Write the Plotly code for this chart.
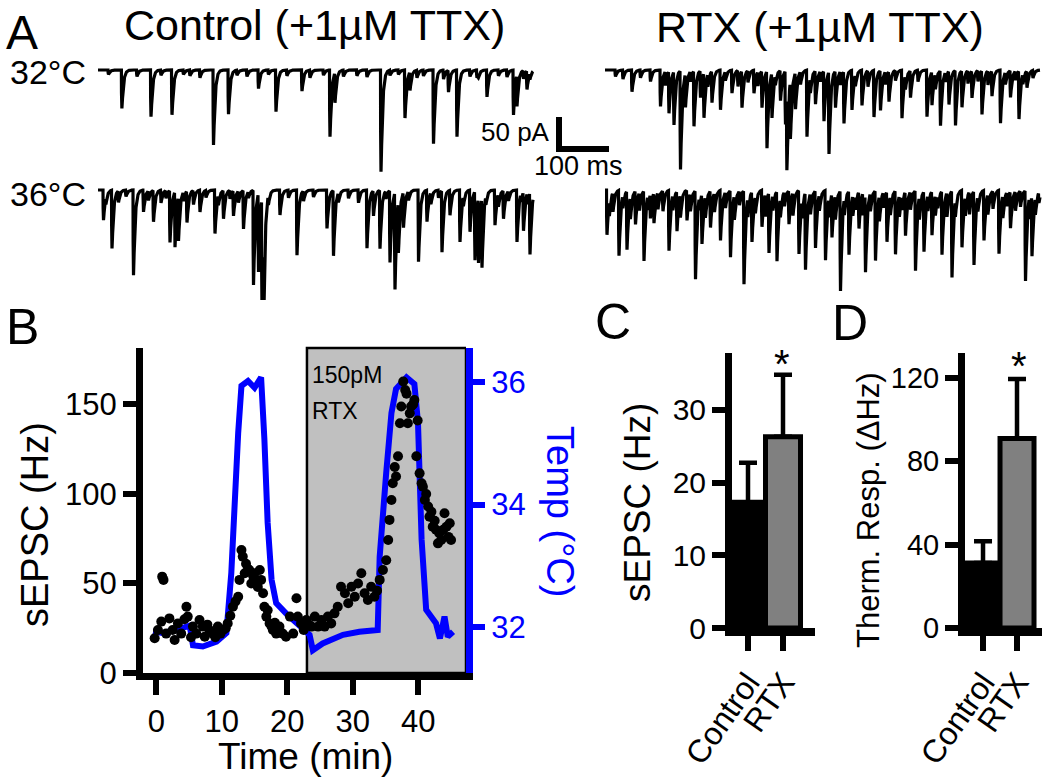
import numpy as np
import plotly.graph_objects as go

W, H = 1050, 781
FONT = "Arial, 'Liberation Sans', sans-serif"

# ---------------- Panel A : event lists (time ms, amplitude pA) ----------------
ctl32_t = [46.7, 105, 147, 230, 260, 320, 355, 407, 463, 473, 565, 613, 623, 670, 700, 717, 777, 830, 837, 857,
           20, 77, 125, 170, 183, 203, 277, 297, 340, 377, 423, 450, 490, 517, 537, 583, 600, 637, 650, 690, 743, 757, 760, 800, 817, 850, 863]
ctl32_a = [60, 73, 70, 117, 69, 29, 65, 33, 104, 47, 159, 75, 29, 115, 34, 104, 42, 70, 49, 29,
           7, 10, 8, 7, 9, 12, 8, 10, 7, 9, 12, 8, 10, 9, 11, 8, 7, 12, 9, 14, 10, 12, 7, 9, 11, 13, 10]

ctl36_t = [10, 27, 70, 90, 110, 143, 153, 160, 177, 203, 233, 250, 270, 290, 310, 320, 327, 330, 363, 397, 457, 470,
           537, 550, 563, 583, 593, 600, 610, 640, 657, 687, 703, 723, 743, 753, 760, 767, 793, 810, 837, 850, 863,
           15, 40, 55, 100, 125, 135, 170, 190, 215, 240, 263, 280, 300, 340, 380, 410, 430, 480, 500, 520, 575, 620,
           665, 680, 730, 775, 800, 820, 845, 858]
ctl36_a = [47, 91, 133, 34, 49, 81, 86, 70, 49, 34, 68, 44, 39, 60, 148, 122, 169, 154, 39, 102, 60, 102,
           91, 39, 91, 112, 151, 81, 55, 112, 49, 96, 39, 81, 65, 107, 102, 109, 55, 44, 81, 60, 96,
           12, 18, 10, 15, 20, 12, 14, 22, 11, 16, 13, 18, 10, 14, 12, 16, 11, 15, 13, 20, 12, 14,
           18, 12, 16, 13, 20, 15, 12, 17]

rtx32_t = [53, 110, 127, 137, 150, 160, 177, 190, 197, 213, 230, 253, 273, 297, 313, 323, 333, 350, 360, 363, 370,
           380, 403, 420, 437, 447, 460, 477, 493, 513, 537, 550, 567, 593, 610, 643, 653, 670, 687, 700, 713, 733,
           753, 773, 790, 810, 827, 843,
           20, 35, 70, 90, 120, 170, 205, 240, 265, 285, 305, 340, 390, 410, 430, 470, 500, 525, 560, 580, 600,
           625, 660, 680, 725, 745, 765, 800, 820, 835, 855]
rtx32_a = [34, 57, 65, 83, 154, 52, 86, 42, 70, 49, 62, 36, 57, 36, 57, 120, 70, 47, 83, 120, 91,
           57, 104, 52, 78, 128, 57, 81, 62, 55, 73, 62, 47, 75, 42, 73, 52, 86, 52, 86, 57, 42,
           68, 39, 83, 42, 75, 26,
           10, 14, 12, 18, 22, 16, 20, 14, 25, 18, 22, 15, 20, 24, 16, 21, 18, 25, 20, 16, 22,
           18, 24, 15, 20, 17, 22, 19, 14, 16, 12]

rtx36_t = [3, 27, 43, 60, 77, 97, 127, 143, 163, 180, 193, 210, 230, 250, 277, 293, 313, 327, 343, 367, 387, 400,
           420, 440, 453, 470, 487, 507, 520, 540, 563, 580, 600, 620, 637, 653, 673, 693, 713, 737, 757, 787,
           810, 840, 853, 867,
           8, 15, 35, 50, 68, 85, 90, 105, 115, 135, 150, 170, 188, 200, 218, 240, 258, 268, 285, 300, 320, 335,
           350, 358, 375, 393, 410, 428, 447, 460, 478, 495, 500, 515, 530, 548, 556, 570, 588, 593, 610, 628,
           645, 660, 665, 683, 700, 720, 728, 745, 765, 775, 795, 803, 820, 830, 848, 860]
rtx36_a = [70, 102, 91, 52, 109, 47, 94, 62, 47, 138, 78, 57, 78, 104, 146, 78, 57, 94, 109, 52, 99, 120,
           89, 109, 68, 156, 99, 57, 120, 109, 78, 99, 68, 125, 94, 68, 99, 135, 89, 115, 78, 99,
           57, 141, 94, 16,
           25, 30, 20, 35, 28, 22, 38, 26, 32, 24, 36, 28, 20, 34, 30, 25, 38, 22, 30, 27, 35, 24,
           30, 22, 36, 28, 33, 25, 30, 38, 26, 32, 22, 35, 28, 40, 24, 30, 34, 22, 28, 36,
           25, 32, 20, 38, 26, 30, 35, 24, 32, 28, 36, 22, 30, 25, 34, 27]

scale_ms = 100
scale_pA = 50

# ---------------- Panel B ----------------
temp_t = [-0.5, 1.0, 3.05, 5.1, 5.6, 7.1, 9.2, 10.7, 11.45, 12.0, 12.5, 13.0, 14.0, 15.0, 16.0, 16.5, 17.0, 17.6,
          18.3, 19.8, 21.9, 23.4, 23.9, 25.4, 28.5, 31.0, 33.8, 34.1, 35.1, 35.9, 36.6, 38.2, 39.4, 39.95, 40.5,
          41.2, 42.7, 43.3, 44.0, 44.5, 45.3]
temp_c = [31.92, 31.9, 31.95, 32.02, 31.7, 31.68, 31.76, 31.9, 32.88, 34.25, 35.17, 35.94, 36.02, 35.91, 36.08,
          35.07, 33.70, 32.77, 32.39, 32.22, 32.0, 31.87, 31.62, 31.73, 31.87, 31.92, 31.95, 33.15, 34.52, 35.5,
          35.89, 36.08, 35.97, 35.34, 33.43, 32.28, 32.06, 31.81, 32.17, 31.84, 31.92]

sepsc_t = [-0.25, 0.25, 0.76, 0.9, 1.1, 1.5, 2.0, 2.5, 2.8, 3.3, 3.8, 4.3, 4.6, 4.8, 5.3, 5.6, 6.1, 6.6, 7.1, 7.4,
           7.8, 8.1, 8.65, 9.0, 9.4, 9.8, 10.2, 10.6, 10.9, 11.3, 11.7, 12.1, 12.5, 12.7, 13.0, 13.2, 13.5, 13.7,
           14.0, 14.2, 14.5, 14.8, 15.0, 15.3, 15.5, 15.8, 16.0, 16.3, 16.5, 16.8, 17.0, 17.3, 17.6, 17.8, 18.1,
           18.3, 18.8, 19.3, 19.8, 20.4, 20.9, 21.4, 21.6, 22.1, 22.5, 22.9, 23.3, 23.7, 24.2, 24.7, 25.2, 25.7,
           26.2, 26.7, 27.2, 27.7, 28.2, 28.8, 29.3, 29.8, 30.3, 30.8, 31.3, 31.8, 32.3, 32.8, 33.3, 33.7, 34.1,
           34.6, 35.1, 35.4, 35.6, 35.9, 36.1, 36.4, 36.6, 36.9, 37.2, 37.4, 37.7, 38.0, 38.2, 38.4, 38.7, 38.9,
           39.2, 39.4, 39.7, 39.9, 40.2, 40.5, 40.7, 41.0, 41.2, 41.5, 41.7, 42.0, 42.2, 42.5, 42.7, 43.0, 43.2,
           43.5, 43.8, 44.0, 44.3, 44.6, 44.8, 45.0]
sepsc_h = [19.4, 24, 28.7, 53.8, 52, 22, 30.5, 24, 18.4, 27.7, 22, 30, 37, 31.5, 20, 25.9, 22, 29.6, 25.9, 20.3,
           27, 24, 22, 20, 25.9, 22, 24, 25, 27.7, 32, 37, 40, 42.6, 52, 68.7, 65, 55.7, 61, 58, 57.5, 50, 54,
           55.7, 50, 48, 57.5, 52, 44.5, 37, 31.5, 35, 27.7, 26, 24, 28, 22, 25.9, 22, 20.3, 31.5, 22, 41.7,
           31.5, 27.7, 24, 29.6, 27, 25.9, 31.5, 25.9, 29.6, 25.9, 31.5, 27.7, 33.3, 37, 48.2, 44.5, 39, 48.2,
           42.6, 50, 55.7, 44.5, 40.8, 48.2, 42.6, 46, 52, 57.5, 63, 74.3, 85.5, 96.6, 106, 115, 109.7, 121,
           139.5, 148.8, 162.8, 158, 156, 139.5, 145, 148.8, 150, 152.5, 121, 141, 111.5, 106, 104, 96.6, 100,
           93, 87.3, 90, 81.7, 85, 80, 72.4, 78, 74.3, 80, 89.2, 81.7, 76, 83.6, 74.3]

# ---------------- Panels C, D ----------------
groups = ["Control", "RTX"]
c_mean = [17.3, 26.3]
c_err = [5.4, 8.5]
d_mean = [31.2, 91.0]
d_err = [10.5, 28.5]


def px(x):
    return x / W


def py(y):
    return 1 - y / H


def build_trace(ev_t, ev_a, duration=870.0, dt=0.25, tau_r=0.4, tau_d=3.0):
    t = np.arange(0.0, duration + dt, dt)
    y = np.zeros_like(t)
    off = np.arange(0.0, 40.0, dt)
    kern = np.exp(-off / tau_d) - np.exp(-off / tau_r)
    kern = kern / kern.max()
    for ti, ai in zip(ev_t, ev_a):
        i0 = int(round(ti / dt))
        i1 = min(len(t), i0 + len(kern))
        y[i0:i1] -= ai * kern[: i1 - i0]
    return t, y


fig = go.Figure()

# Panel A traces
for (et, ea, xa, ya) in [(ctl32_t, ctl32_a, "x", "y"), (ctl36_t, ctl36_a, "x", "y2"),
                          (rtx32_t, rtx32_a, "x2", "y"), (rtx36_t, rtx36_a, "x2", "y2")]:
    tt, yy = build_trace(et, ea)
    fig.add_trace(go.Scatter(x=tt, y=yy, mode="lines", line=dict(color="black", width=3.2),
                             xaxis=xa, yaxis=ya, showlegend=False, hoverinfo="skip"))

# scale bar (100 ms / 50 pA)
sb_x0, sb_y0 = 922.0, -123.4
fig.add_trace(go.Scatter(x=[sb_x0, sb_x0, sb_x0 + scale_ms], y=[sb_y0 + scale_pA, sb_y0, sb_y0],
                         mode="lines", line=dict(color="black", width=6), xaxis="x", yaxis="y",
                         showlegend=False, hoverinfo="skip"))

# Panel B
fig.add_trace(go.Scatter(x=temp_t, y=temp_c, mode="lines", line=dict(color="#0000ff", width=6),
                         xaxis="x5", yaxis="y5", showlegend=False))
fig.add_trace(go.Scatter(x=sepsc_t, y=sepsc_h, mode="markers", marker=dict(color="black", size=10),
                         xaxis="x5", yaxis="y6", showlegend=False))

# Panel C, D bars
for (m, e, xa, ya) in [(c_mean, c_err, "x7", "y7"), (d_mean, d_err, "x8", "y8")]:
    fig.add_trace(go.Bar(x=[0, 1], y=m, width=[1.0, 1.0],
                         marker=dict(color=["black", "#808080"], line=dict(color="black", width=5)),
                         error_y=dict(type="data", array=e, arrayminus=[0, 0], symmetric=False,
                                      color="black", thickness=4.5, width=9),
                         xaxis=xa, yaxis=ya, showlegend=False))

hidden = dict(visible=False, showgrid=False, zeroline=False, automargin=False)
black_axis = dict(showline=True, linecolor="black", ticks="outside", tickcolor="black",
                  showgrid=False, zeroline=False, automargin=False,
                  tickfont=dict(family=FONT, size=31, color="black"))

fig.update_layout(
    width=W, height=H, margin=dict(l=0, r=0, t=0, b=0, pad=0, autoexpand=False),
    paper_bgcolor="white", plot_bgcolor="rgba(0,0,0,0)",
    font=dict(family=FONT, color="black"), showlegend=False,
    xaxis=dict(domain=[px(98), px(620)], range=[0, 1044], anchor="y", **hidden),
    xaxis2=dict(domain=[px(605), px(1045)], range=[0, 880], anchor="y", **hidden),
    yaxis=dict(domain=[py(175), py(55)], range=[-164.06, 23.44], anchor="x", **hidden),
    yaxis2=dict(domain=[py(300), py(176)], range=[-171.875, 21.875], anchor="x", **hidden),
    xaxis5=dict(domain=[px(143), px(466)], range=[-2.03, 47.28], anchor="y5",
                tickvals=[0, 10, 20, 30, 40], ticklen=15, tickwidth=6, linewidth=7, **black_axis),
    yaxis5=dict(domain=[py(673), py(348)], range=[31.246, 36.56], anchor="x5", side="right",
                tickvals=[32, 34, 36], showline=True, linecolor="#0000ff", linewidth=7,
                ticks="outside", tickcolor="#0000ff", ticklen=12, tickwidth=6, automargin=False,
                showgrid=False, zeroline=False, tickfont=dict(family=FONT, size=31, color="#0000ff")),
    yaxis6=dict(overlaying="y5", anchor="x5", side="left", range=[0, 181.5],
                tickvals=[0, 50, 100, 150], ticklen=13, tickwidth=6, linewidth=7, **black_axis),
    xaxis7=dict(domain=[px(732), px(815)], range=[-0.457, 1.914], anchor="y7",
                tickvals=[0, 1], ticktext=groups, tickangle=-55, ticklen=15, tickwidth=6, linewidth=8,
                **{**black_axis, "tickfont": dict(family=FONT, size=32, color="black")}),
    yaxis7=dict(domain=[py(628), py(353)], range=[0, 37.8], anchor="x7",
                tickvals=[0, 10, 20, 30], ticklen=13, tickwidth=6, linewidth=7,
                **{**black_axis, "tickfont": dict(family=FONT, size=30, color="black")}),
    xaxis8=dict(domain=[px(965), px(1042)], range=[-0.53, 1.735], anchor="y8",
                tickvals=[0, 1], ticktext=groups, tickangle=-55, ticklen=15, tickwidth=6, linewidth=8,
                **{**black_axis, "tickfont": dict(family=FONT, size=32, color="black")}),
    yaxis8=dict(domain=[py(628), py(353)], range=[0, 132], anchor="x8",
                tickvals=[0, 40, 80, 120], ticklen=13, tickwidth=6, linewidth=7,
                **{**black_axis, "tickfont": dict(family=FONT, size=29, color="black")}),
)

# RTX application period (gray box)
fig.add_shape(type="rect", xref="x5", yref="y5 domain", x0=23.0, x1=47.28, y0=0, y1=1,
              fillcolor="#c0c0c0", line=dict(color="black", width=2.5), layer="below")


def ann(text, x, y, size, xanchor="center", yanchor="middle", color="black", angle=0):
    fig.add_annotation(text=text, x=px(x), y=py(y), xref="paper", yref="paper", showarrow=False,
                       xanchor=xanchor, yanchor=yanchor, textangle=angle,
                       font=dict(family=FONT, size=size, color=color))


ann("A", 4, 32, 48, xanchor="left")
ann("Control (+1µM TTX)", 314, 25, 43)
ann("RTX (+1µM TTX)", 820, 27, 43)
ann("32°C", 88, 72, 34, xanchor="right")
ann("36°C", 88, 194, 34, xanchor="right")
ann("50 pA", 552, 132, 26, xanchor="right")
ann("100 ms", 532, 166, 27, xanchor="left")

ann("B", 4, 327, 50, xanchor="left")
ann("sEPSC (Hz)", 35, 525, 38, angle=-90)
ann("Temp (°C)", 560, 511, 38, color="#0000ff", angle=90)
ann("Time (min)", 305, 756, 37)
ann("150pM", 310, 375, 23, xanchor="left")
ann("RTX", 310, 411, 23, xanchor="left")

ann("C", 593, 322, 50, xanchor="left")
ann("sEPSC (Hz)", 637, 503, 37, angle=-90)
ann("*", 782, 340, 40, yanchor="top")

ann("D", 830, 323, 50, xanchor="left")
ann("Therm. Resp. (ΔHz)", 868, 510, 31, angle=-90)
ann("*", 1019, 342, 40, yanchor="top")

fig.write_html("out.html", config={"displayModeBar": False},
               post_script="document.body.style.margin='0px';document.body.style.overflow='hidden';")
